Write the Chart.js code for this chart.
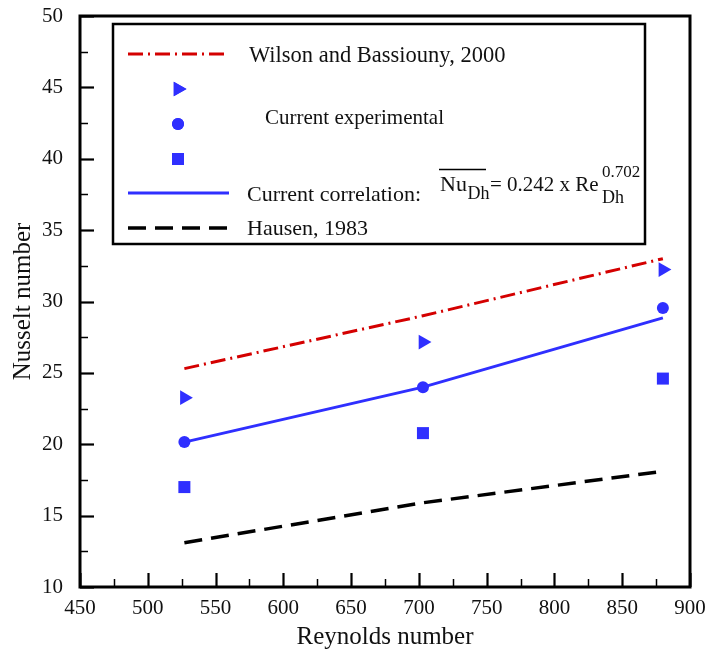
<!DOCTYPE html>
<html>
<head>
<meta charset="utf-8">
<script src="https://cdn.jsdelivr.net/npm/chart.js@4.4.1/dist/chart.umd.min.js"></script>
<style>
  html,body{margin:0;padding:0;background:#fff;}
  canvas{display:block;}
</style>
</head>
<body>
<canvas id="nuChart" width="706" height="655"></canvas>
<script>
// data
const reynolds = [527, 703, 880];
const wilson = [25.3, 29.0, 33.0];
const expTriangle = [23.26, 27.16, 32.24];
const expCircle = [20.15, 24.0, 29.55];
const expSquare = [17.0, 20.78, 24.6];
const correlation = [20.15, 24.0, 28.85];
const hausen = [13.1, 15.9, 18.1];

const xMin = 450, xMax = 900, xStep = 50, xMinor = 25;
const yMin = 10, yMax = 50, yStep = 5, yMinor = 2.5;

const SERIF = "'Liberation Serif', 'DejaVu Serif', serif";
const BLUE = '#2f2fff', RED = '#d40000', INK = '#111';

const pts = ys => reynolds.map((x, i) => ({x: x, y: ys[i]}));

// keep the plot box where the figure has it
function fixBox(size, horizontal) {
  return s => {
    if (horizontal) s.height = size; else s.width = size;
    s.paddingTop = s.paddingBottom = s.paddingLeft = s.paddingRight = 0;
  };
}

// inward ticks, frame and the boxed legend
const framePlugin = {
  id: 'frame',
  afterDatasetsDraw(chart) {
    const {ctx, chartArea: a, scales: {x, y}} = chart;
    ctx.save();
    ctx.strokeStyle = '#000';
    // y ticks on the left
    for (let v = yMin; v <= yMax + 1e-9; v += yMinor) {
      const major = Math.abs(v / yStep - Math.round(v / yStep)) < 1e-6;
      const py = Math.round(y.getPixelForValue(v)) + 0.5;
      ctx.lineWidth = major ? 2.2 : 1.5;
      ctx.beginPath(); ctx.moveTo(a.left, py); ctx.lineTo(a.left + (major ? 14 : 8), py); ctx.stroke();
    }
    // x ticks on the bottom
    for (let v = xMin; v <= xMax + 1e-9; v += xMinor) {
      const major = Math.abs(v / xStep - Math.round(v / xStep)) < 1e-6;
      const px = Math.round(x.getPixelForValue(v)) + 0.5;
      ctx.lineWidth = major ? 2.2 : 1.5;
      ctx.beginPath(); ctx.moveTo(px, a.bottom); ctx.lineTo(px, a.bottom - (major ? 14 : 8)); ctx.stroke();
    }
    ctx.lineWidth = 3;
    ctx.strokeRect(a.left, a.top, a.right - a.left, a.bottom - a.top);

    // legend box
    const ds = chart.data.datasets;
    const bx = 113, by = 24, bw = 532, bh = 220;
    ctx.fillStyle = '#fff';
    ctx.fillRect(bx, by, bw, bh);
    ctx.lineWidth = 2.5;
    ctx.strokeRect(bx, by, bw, bh);

    const sample = (d, yy) => {
      ctx.save();
      ctx.strokeStyle = d.borderColor;
      ctx.lineWidth = d.borderWidth;
      ctx.setLineDash(d.borderDash || []);
      ctx.beginPath(); ctx.moveTo(128, yy); ctx.lineTo(229, yy); ctx.stroke();
      ctx.restore();
    };
    const marker = (d, xx, yy) => {
      Chart.helpers.drawPoint(ctx, {pointStyle: d.pointStyle, rotation: d.rotation || 0, radius: d.pointRadius, borderWidth: 0}, xx, yy);
      ctx.fill();
    };
    const text = (s, xx, yy, size) => {
      ctx.font = size + 'px ' + SERIF;
      ctx.fillText(s, xx, yy);
      return ctx.measureText(s).width;
    };

    sample(ds[0], 54);
    ctx.fillStyle = BLUE;
    marker(ds[1], 178, 89);
    marker(ds[2], 178, 124);
    marker(ds[3], 178, 159);
    sample(ds[4], 193);
    sample(ds[5], 228);

    ctx.fillStyle = INK;
    ctx.textBaseline = 'alphabetic';
    ctx.textAlign = 'left';
    text('Wilson and Bassiouny, 2000', 249, 62, 22.5);
    text('Current experimental', 265, 124, 21);
    text('Current correlation:', 247, 201, 22);
    text('Hausen, 1983', 247, 235, 22);

    // formula: overline Nu_Dh = 0.242 x Re_Dh^0.702
    const nuW = text('Nu', 440, 191, 22);
    ctx.lineWidth = 1.3;
    ctx.beginPath(); ctx.moveTo(439, 169.5); ctx.lineTo(486, 169.5); ctx.stroke();
    text('Dh', 440 + nuW + 0.5, 199, 18);
    text('= 0.242 x Re', 490, 191, 21);
    text('0.702', 602, 177, 17);
    text('Dh', 602, 203, 18);
    ctx.restore();
  }
};

new Chart(document.getElementById('nuChart'), {
  type: 'line',
  data: {
    datasets: [
      {label: 'Wilson and Bassiouny, 2000', data: pts(wilson), borderColor: RED, borderWidth: 3,
        borderDash: [15, 5, 2, 5], pointRadius: 0, tension: 0},
      {label: 'Current experimental', data: pts(expTriangle), showLine: false, pointStyle: 'triangle',
        rotation: 90, pointRadius: 8.5, backgroundColor: BLUE, borderWidth: 0, pointBorderWidth: 0},
      {label: 'Current experimental', data: pts(expCircle), showLine: false, pointStyle: 'circle',
        pointRadius: 6, backgroundColor: BLUE, borderWidth: 0, pointBorderWidth: 0},
      {label: 'Current experimental', data: pts(expSquare), showLine: false, pointStyle: 'rect',
        pointRadius: 8.5, backgroundColor: BLUE, borderWidth: 0, pointBorderWidth: 0},
      {label: 'Current correlation', data: pts(correlation), borderColor: BLUE, borderWidth: 3,
        pointRadius: 0, tension: 0},
      {label: 'Hausen, 1983', data: pts(hausen), borderColor: '#000', borderWidth: 3.5,
        borderDash: [18, 9], pointRadius: 0, tension: 0}
    ]
  },
  options: {
    responsive: false,
    animation: false,
    devicePixelRatio: 1,
    layout: {padding: {top: 16, right: 16, left: 0, bottom: 0}, autoPadding: false},
    plugins: {legend: {display: false}, tooltip: {enabled: false}},
    scales: {
      x: {
        type: 'linear', min: xMin, max: xMax,
        afterFit: fixBox(68, true),
        grid: {display: false, drawTicks: false},
        border: {display: false},
        ticks: {stepSize: xStep, autoSkip: false, maxRotation: 0, padding: 9, color: INK,
          font: {family: SERIF, size: 21}},
        title: {display: true, text: 'Reynolds number', color: INK, padding: {top: 0, bottom: 3},
          font: {family: SERIF, size: 25}}
      },
      y: {
        min: yMin, max: yMax,
        afterFit: fixBox(80, false),
        grid: {display: false, drawTicks: false},
        border: {display: false},
        ticks: {stepSize: yStep, autoSkip: false, padding: 17, color: INK,
          font: {family: SERIF, size: 21}},
        title: {display: true, text: 'Nusselt number', color: INK, padding: {top: 8, bottom: 0},
          font: {family: SERIF, size: 25}}
      }
    }
  },
  plugins: [framePlugin]
});
</script>
</body>
</html>
